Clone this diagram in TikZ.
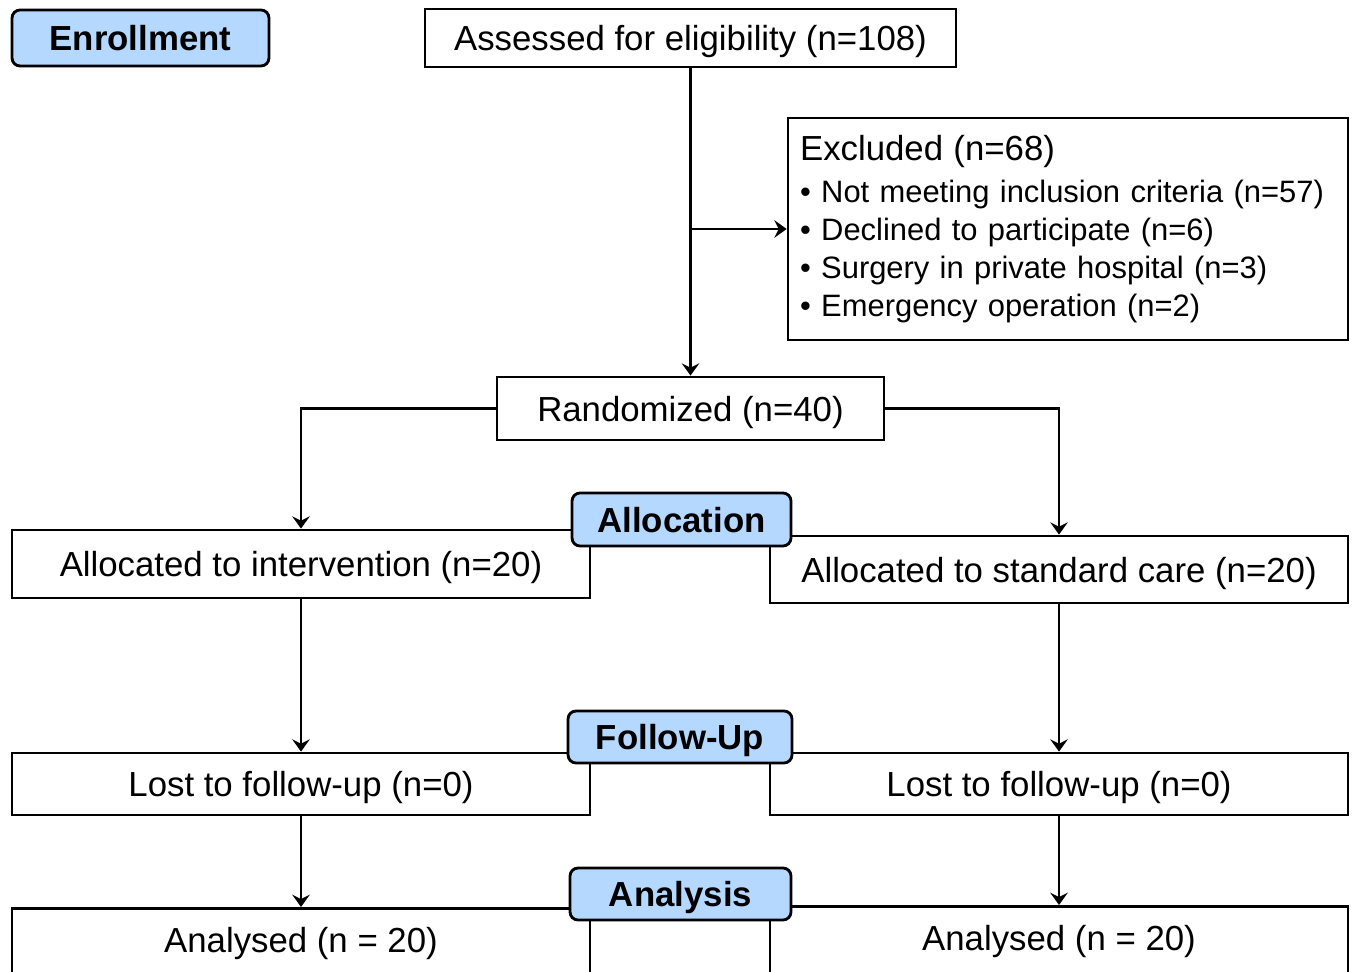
\documentclass[tikz,border=0pt]{standalone}
\usepackage{fontspec}
\setmainfont{Liberation Sans}
\usetikzlibrary{arrows.meta}
\definecolor{stageblue}{RGB}{180,216,255}

\begin{document}
\begin{tikzpicture}[x=0.02cm, y=-0.02cm,
    font=\fontsize{19.8}{21.6}\selectfont,
    box/.style={draw, line width=1.6pt, inner sep=0pt, text depth=0pt, minimum width=11.56cm},
    stage/.style={draw, line width=1.6pt, fill=stageblue, rounded corners=0.16cm,
        inner sep=0pt, text depth=0pt, font=\fontsize{19.8}{21.6}\selectfont\bfseries},
    arr/.style={line width=1.6pt, -{Stealth[length=7pt, width=10pt, inset=2.5pt]}}]
    \useasboundingbox (0,0) rectangle (1354,972);
    \clip (0,0) rectangle (1354,972);
    % boxes
    \node [box, minimum width=10.62cm, minimum height=1.16cm] (assess) at (690.5,38) {Assessed for eligibility (n=108)};
    \node [draw, line width=1.6pt, minimum width=11.2cm, minimum height=4.44cm, text width=10.72cm,
        inner xsep=0.24cm, align=left, font=\fontsize{17.6}{21.6}\selectfont] (excl) at (1068,229)
        {{\fontsize{19.8}{21.6}\selectfont Excluded (n=68)}\\[2.5pt]
         • Not meeting inclusion criteria (n=57)\\
         • Declined to participate (n=6)\\
         • Surgery in private hospital (n=3)\\
         • Emergency operation (n=2)};
    \node [box, minimum width=7.74cm, minimum height=1.26cm] (rand) at (690.5,408.5) {Randomized (n=40)};
    \node [box, minimum height=1.36cm] (allocL) at (301,564) {Allocated to intervention (n=20)};
    \node [box, minimum height=1.34cm] (allocR) at (1059,569.5) {Allocated to standard care (n=20)};
    \node [box, minimum height=1.24cm] (lostL) at (301,784) {Lost to follow-up (n=0)};
    \node [box, minimum height=1.24cm] (lostR) at (1059,784) {Lost to follow-up (n=0)};
    \node [box, minimum height=1.4cm, text depth=4.2pt, anchor=north] (anaL) at (301,907) {Analysed (n = 20)};
    \node [box, minimum height=1.4cm, text depth=4.2pt, anchor=north] (anaR) at (1059,905) {Analysed (n = 20)};
    % connectors
    \coordinate (split) at (assess.south |- excl.west);
    \draw [arr] (assess.south) -- (rand.north);
    \draw [arr] (split) -- (excl.west);
    \draw [arr] (rand.west) -| (allocL.north);
    \draw [arr] (rand.east) -| (allocR.north);
    \draw [arr] (allocL.south) -- (lostL.north);
    \draw [arr] (allocR.south) -- (lostR.north);
    \draw [arr] (lostL.south) -- (anaL.north);
    \draw [arr] (lostR.south) -- (anaR.north);
    % stage labels
    \node [stage, minimum width=5.14cm, minimum height=1.12cm] (enroll) at (140.5,38) {Enrollment};
    \node [stage, minimum width=4.38cm, minimum height=1.06cm] (alloc) at (681.5,519.5) {Allocation};
    \node [stage, minimum width=4.48cm, minimum height=1.04cm] (follow) at (680,737) {Follow-Up};
    \node [stage, minimum width=4.42cm, minimum height=1.04cm] (analysis) at (680.5,894) {Analysis};
\end{tikzpicture}
\end{document}
